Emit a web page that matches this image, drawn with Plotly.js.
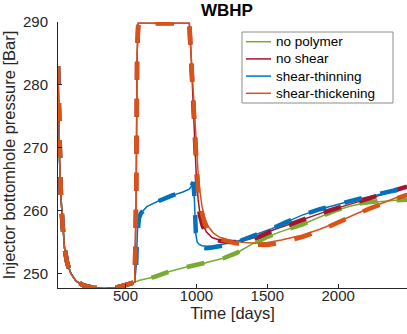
<!DOCTYPE html>
<html>
<head>
<meta charset="utf-8">
<script src="https://cdn.plot.ly/plotly-3.0.1.min.js"></script>
<style>html,body{margin:0;padding:0;background:#fff;}#chart{width:407px;height:334px;}</style>
</head>
<body>
<div id="chart"></div>
<script>
// ---- data ----
const seriesNames = ["no polymer", "no shear", "shear-thinning", "shear-thickening"];
const seriesColors = ["#77AC30", "#A2142F", "#0072BD", "#D95319"];

// water-flood phase shared by every case (days, bar)
const tShared = [24, 35, 45, 55, 70, 90, 115, 150, 200, 270, 350, 430, 490, 540, 565];
const pShared = [283, 268, 262, 258, 254, 251.5, 250, 248.8, 248.1, 247.7, 247.6, 247.7, 248.0, 248.4, 248.6];

// no polymer
const tNoPolymer = [600, 700, 810, 930, 1025, 1085, 1190, 1280, 1350, 1420, 1490, 1590, 1750, 1870, 1980, 2090, 2170, 2290, 2400, 2485];
const pNoPolymer = [248.9, 249.4, 250.3, 251.0, 251.4, 251.8, 252.4, 253.2, 254.1, 255.0, 255.7, 256.6, 257.8, 259.0, 260.0, 260.7, 261.1, 261.4, 261.6, 261.8];
const pNoPolymerRef = [248.9, 249.4, 250.3, 251.0, 251.4, 251.8, 252.4, 253.2, 254.1, 255.0, 255.7, 256.6, 257.8, 259.0, 260.0, 260.8, 261.2, 261.5, 261.6, 261.7];

// no shear
const tNoShear = [575, 582, 590, 950, 960, 970, 980, 990, 1000, 1012, 1025, 1045, 1070, 1110, 1160, 1230, 1300, 1370, 1440, 1540, 1650, 1750, 1870, 1980, 2100, 2220, 2350, 2485];
const pNoShear = [262, 285, 289.8, 289.8, 286, 280, 274, 269, 265, 261.8, 259.5, 257.8, 256.6, 255.7, 255.3, 255.1, 255.1, 255.4, 255.9, 256.9, 257.8, 258.6, 259.5, 260.3, 261.1, 261.9, 262.8, 263.8];
const pNoShearRef = [262, 285, 289.8, 289.8, 285, 279, 273, 268, 264.2, 261.2, 259.2, 257.5, 256.4, 255.6, 255.2, 255.0, 255.0, 255.3, 255.8, 256.8, 257.7, 258.6, 259.5, 260.3, 261.1, 261.9, 262.8, 263.8];

// shear-thinning
const tThinning = [575, 580, 586, 595, 610, 650, 700, 750, 830, 900, 950, 968, 978, 985, 990, 996, 1005, 1020, 1040, 1070, 1110, 1160, 1230, 1300, 1350, 1420, 1490, 1520, 1630, 1750, 1870, 1980, 2100, 2220, 2380, 2485];
const pThinning = [251, 255, 257.6, 258.8, 259.6, 260.6, 261.2, 261.7, 262.4, 262.9, 263.4, 263.9, 264.3, 262, 258.5, 256.2, 255.0, 254.6, 254.4, 254.3, 254.3, 254.5, 254.8, 255.2, 255.6, 256.1, 256.7, 257.0, 258.1, 259.3, 260.2, 260.9, 261.6, 262.2, 263.1, 263.6];
const pThinningRef = [251, 255, 257.6, 258.8, 259.6, 260.6, 261.2, 261.7, 262.4, 262.9, 263.4, 264.0, 264.5, 262.5, 259, 256.5, 255.0, 254.3, 254.1, 254.0, 254.1, 254.3, 254.6, 255.1, 255.5, 256.1, 256.7, 257.0, 258.1, 259.3, 260.2, 260.9, 261.6, 262.3, 263.1, 263.6];

// shear-thickening
const tThickening = [575, 582, 590, 950, 962, 975, 988, 1000, 1012, 1025, 1040, 1060, 1085, 1120, 1160, 1210, 1270, 1340, 1420, 1500, 1600, 1750, 1870, 1980, 2100, 2220, 2350, 2485];
const pThickening = [262, 285, 289.8, 289.8, 285, 279.5, 274.5, 270, 266, 263, 260.6, 258.7, 257.4, 256.4, 255.8, 255.4, 255.1, 254.9, 254.8, 254.9, 255.3, 256.1, 257.0, 258.0, 259.2, 260.4, 261.5, 262.7];
const pThickeningRef = [262, 285, 289.8, 289.8, 284, 278, 272, 267, 263.2, 260.8, 259.2, 257.8, 256.8, 256.0, 255.5, 255.1, 254.8, 254.6, 254.5, 254.5, 254.9, 255.8, 256.8, 257.9, 259.1, 260.3, 261.4, 262.5];

// ---- build traces ----
const simT = [tNoPolymer, tNoShear, tThinning, tThickening];
const simP = [pNoPolymer, pNoShear, pThinning, pThickening];
const refP = [pNoPolymerRef, pNoShearRef, pThinningRef, pThickeningRef];

const traces = [];
for (let i = 0; i < 4; i++) {
  traces.push({
    x: tShared.concat(simT[i]), y: pShared.concat(simP[i]),
    type: "scatter", mode: "lines", name: seriesNames[i],
    line: {color: seriesColors[i], width: 1.5}, showlegend: false
  });
}
for (let i = 0; i < 4; i++) {
  traces.push({
    x: tShared.concat(simT[i]), y: pShared.concat(refP[i]),
    type: "scatter", mode: "lines", name: seriesNames[i] + " (ref)",
    line: {color: seriesColors[i], width: 4.5, dash: "18px,19px"}, showlegend: false
  });
}

// ---- MATLAB-style legend box (drawn in paper coordinates) ----
const W = 407, H = 334, ML = 58, MR = 0, MT = 22, MB = 46;
const pw = W - ML - MR, ph = H - MT - MB;
const px2x = p => (p - ML) / pw;
const py2y = p => (H - MB - p) / ph;
const legBox = {x0: 242, x1: 393, y0: 32, y1: 103};
const legRow0 = 41.7, legRowGap = 17.2, legLineX0 = 246, legLineX1 = 271, legTextX = 273.5;

const shapes = [{
  type: "rect", xref: "paper", yref: "paper",
  x0: px2x(legBox.x0), x1: px2x(legBox.x1), y0: py2y(legBox.y1), y1: py2y(legBox.y0),
  line: {color: "#8c8c8c", width: 1}, fillcolor: "#fff", layer: "above"
}];
const annotations = [];
seriesNames.forEach((nm, i) => {
  const yy = py2y(legRow0 + i * legRowGap);
  shapes.push({type: "line", xref: "paper", yref: "paper",
    x0: px2x(legLineX0), x1: px2x(legLineX1), y0: yy, y1: yy,
    line: {color: seriesColors[i], width: 1.5}, layer: "above"});
  annotations.push({xref: "paper", yref: "paper", x: px2x(legTextX), y: yy,
    xanchor: "left", yanchor: "middle", showarrow: false, text: nm,
    font: {size: 13.5, color: "#000"}});
});

const fontFam = "Liberation Sans, Arial, Helvetica, sans-serif";
const axisCol = "#262626";
const layout = {
  width: W, height: H,
  margin: {l: ML, r: MR, t: MT, b: MB},
  paper_bgcolor: "#fff", plot_bgcolor: "#fff",
  font: {family: fontFam, color: axisCol},
  title: {text: "<b>WBHP</b>", font: {size: 17, color: "#000", family: fontFam},
          x: 0.484, xref: "paper", xanchor: "center", y: 0.97, yref: "container", yanchor: "middle"},
  xaxis: {
    range: [24, 2485], tickvals: [500, 1000, 1500, 2000], ticktext: ["500", "1000", "1500", "2000"],
    ticks: "inside", ticklen: 4, tickcolor: axisCol, showline: true, linecolor: axisCol, linewidth: 1,
    showgrid: false, zeroline: false, mirror: false, ticklabelstandoff: -6,
    tickfont: {size: 15, color: axisCol},
    title: {text: "Time [days]", font: {size: 16.5, color: axisCol}, standoff: 4}
  },
  yaxis: {
    range: [247.66, 290], tickvals: [250, 260, 270, 280, 290], ticktext: ["250", "260", "270", "280", "290"],
    ticks: "inside", ticklen: 4, tickcolor: axisCol, showline: true, linecolor: axisCol, linewidth: 1,
    showgrid: false, zeroline: false, mirror: false, ticklabelstandoff: 6,
    tickfont: {size: 15, color: axisCol},
    title: {text: "Injector bottomhole pressure [Bar]", font: {size: 16.5, color: axisCol}, standoff: 4}
  },
  shapes: shapes,
  annotations: annotations,
  showlegend: false
};

Plotly.newPlot("chart", traces, layout, {staticPlot: true, displayModeBar: false});
</script>
</body>
</html>
